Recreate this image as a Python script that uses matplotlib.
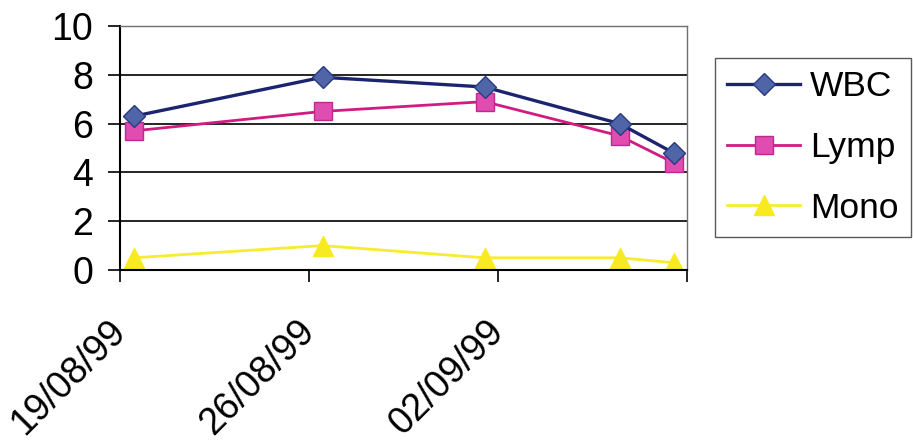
import numpy as np
import pandas as pd
import matplotlib
matplotlib.use('Agg')
import matplotlib.pyplot as plt
import matplotlib.transforms as mtransforms

# blood count readings
dates = ['1999-08-19', '1999-08-26', '1999-09-01', '1999-09-06', '1999-09-08']
wbc = [6.3, 7.9, 7.5, 6.0, 4.8]
lymp = [5.7, 6.5, 6.9, 5.5, 4.4]
mono = [0.5, 1.0, 0.5, 0.5, 0.3]
tick_dates = ['1999-08-19', '1999-08-26', '1999-09-02', '1999-09-09']
tick_labels = ['19/08/99', '26/08/99', '02/09/99', '']

plt.rcParams['font.family'] = ['Liberation Sans', 'DejaVu Sans']

start = pd.Timestamp(dates[0])
# excel date axis: each day is a slot, points sit in the middle of it
xday = np.array([(pd.Timestamp(d) - start).days for d in dates]) + 0.5
xtick = np.array([(pd.Timestamp(d) - start).days for d in tick_dates])

fig = plt.figure(figsize=(9.13, 4.43), dpi=100)
ax = fig.add_axes([120/913, 1-270/443, 567/913, 244/443])

ax.plot(xday, wbc, color='#1c2470', lw=2.4, marker='D', ms=11,
        mfc='#4f65a8', mec='#2a3a80', mew=1, label='WBC', zorder=4)
ax.plot(xday, lymp, color='#d01c80', lw=2.0, marker='s', ms=13,
        mfc='#e04cb0', mec='#c02890', mew=1, label='Lymp', zorder=3)
ax.plot(xday, mono, color='#f8ec30', lw=2.0, marker='^', ms=15,
        mfc='#f8ea20', mec='#f8ea20', mew=1, label='Mono', zorder=2)

ax.set_xlim(xtick[0], xtick[-1])
ax.set_ylim(0, 10)
ax.set_yticks([0, 2, 4, 6, 8, 10])
ax.set_xticks(xtick)
ax.set_xticklabels(tick_labels, rotation=45, ha='right', va='center',
                   rotation_mode='anchor')
shift = mtransforms.ScaledTranslation(14/100, 0, fig.dpi_scale_trans)
for lab in ax.get_xticklabels():
    lab.set_transform(lab.get_transform() + shift)

ax.tick_params(axis='both', labelsize=27, direction='out', length=8.5,
               width=1.2, color='black')
ax.tick_params(axis='y', pad=11)
ax.tick_params(axis='x', pad=32)

ax.grid(axis='y', color='black', lw=1.2)
ax.set_axisbelow(True)
for s in ['left', 'bottom']:
    ax.spines[s].set_color('black')
    ax.spines[s].set_linewidth(1.5)
for s in ['top', 'right']:
    ax.spines[s].set_color('#707070')
    ax.spines[s].set_linewidth(1.0)

leg = ax.legend(loc='upper left', bbox_to_anchor=(715/913, 1-58/443),
                bbox_transform=fig.transFigure, borderaxespad=0,
                fontsize=25.5, frameon=True, fancybox=False, edgecolor='#303030',
                handlelength=2.05, handletextpad=0.28, labelspacing=0.78,
                borderpad=0.35)
leg.get_frame().set_linewidth(1.0)

fig.savefig('out.png', dpi=100)
